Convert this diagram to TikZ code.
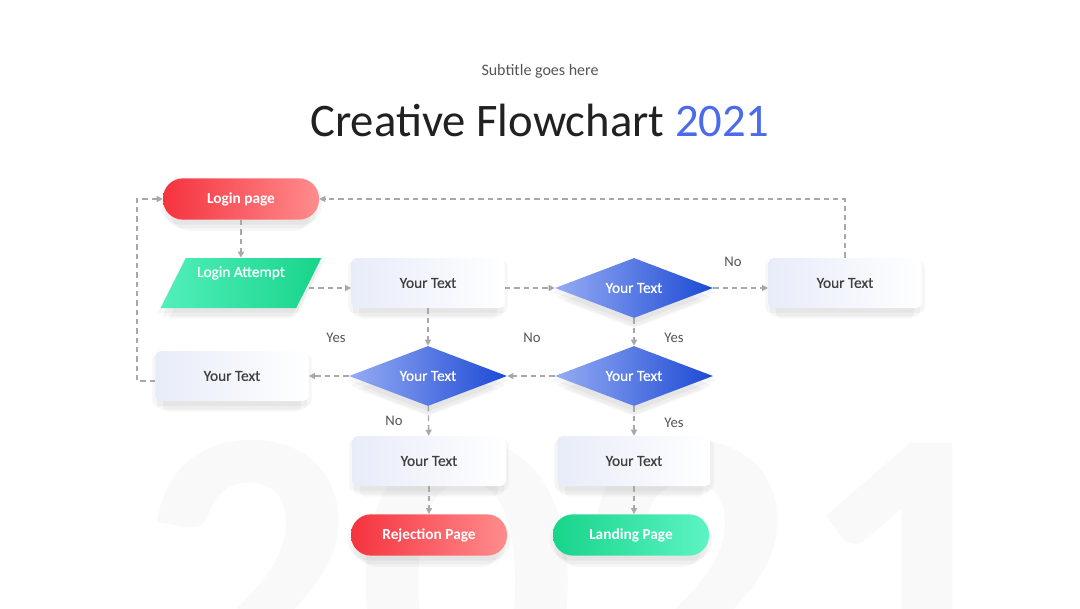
\documentclass[tikz,border=0pt]{standalone}
\usepackage{fontspec}
\setmainfont{Carlito}
\usetikzlibrary{shapes.geometric,arrows.meta,shadows}

\definecolor{redA}{HTML}{F5333F}
\definecolor{redB}{HTML}{FF8C8C}
\definecolor{greenA}{HTML}{18D48A}
\definecolor{greenB}{HTML}{5CF4C4}
\definecolor{blueA}{HTML}{95ACF3}
\definecolor{blueB}{HTML}{1D49D5}
\definecolor{paleblue}{HTML}{E8ECF9}
\definecolor{textgray}{HTML}{404040}
\definecolor{answergray}{HTML}{555555}
\definecolor{linegray}{HTML}{A8A8A8}
\definecolor{titleblue}{HTML}{4B6BEB}

\begin{document}
\begin{tikzpicture}[x=0.75pt, y=0.75pt]
  \useasboundingbox (0,0) rectangle (1080,608);
  \fill [white] (0,0) rectangle (1080,608);  % Hintergrund.

  \tikzstyle{soft}=[general shadow={fill=black, opacity=0.035, shadow yshift=-3pt, shadow scale=1.04},
                    general shadow={fill=black, opacity=0.035, shadow yshift=-7pt, shadow scale=0.98},
                    general shadow={fill=black, opacity=0.03, shadow yshift=-11pt, shadow scale=0.9}]
  \tikzstyle{pill}=[rectangle, rounded corners=15pt, minimum width=117pt, minimum height=31pt, inner sep=0pt, text=white, font=\bfseries\fontsize{11.5}{13}\selectfont, soft]
  \tikzstyle{redpill}=[pill, left color=redA, right color=redB]
  \tikzstyle{greenpill}=[pill, left color=greenA, right color=greenB]
  \tikzstyle{txtbox}=[rectangle, rounded corners=4pt, minimum width=115pt, minimum height=37.5pt, inner sep=0pt, left color=paleblue, right color=white, text=textgray, font=\fontsize{11.5}{13}\selectfont\addfontfeature{FakeBold=0.5}, soft]
  \tikzstyle{decision}=[diamond, aspect=2.6, minimum width=118.5pt, minimum height=45pt, inner sep=0pt, left color=blueA, right color=blueB, text=white, font=\fontsize{11.5}{13}\selectfont\addfontfeature{FakeBold=0.5}, soft]
  \tikzstyle{inputbox}=[trapezium, trapezium left angle=59, trapezium right angle=121, trapezium stretches=true, minimum width=121pt, minimum height=37.5pt, inner sep=0pt, text depth=17pt, left color=greenB!85!greenA, right color=greenA, text=white, font=\fontsize{11.5}{13}\selectfont\addfontfeature{FakeBold=0.5}, soft]
  \tikzstyle{flow}=[draw=linegray, line width=1pt, dash pattern=on 4pt off 3pt, -{Triangle[length=4.5pt, width=4.5pt]}]
  \tikzstyle{answer}=[text=answergray, font=\fontsize{11}{13}\selectfont, inner sep=1pt]

  % Wasserzeichen
  \begin{scope}
    \clip (0,0) rectangle (1080,608);
    \node[text=black!2.5, font=\bfseries\fontsize{325}{325}\selectfont, anchor=north west, inner sep=0pt] (mark) at (138,168) {2021};
  \end{scope}

  \node[text=answergray, font=\fontsize{12}{14}\selectfont, anchor=base] (sub) at (540,532) {Subtitle goes here};
  \node[text=black!87, font=\fontsize{35}{42}\selectfont, anchor=base] (title) at (540,471) {Creative Flowchart \textcolor{titleblue}{2021}};

  \node[redpill] (login) at (241,409) {Login page};
  \node[inputbox] (attempt) at (241,325) {Login Attempt};
  \node[txtbox] (t1) at (428,325) {Your Text};
  \node[decision] (d1) at (634,320) {Your Text};
  \node[txtbox] (tr) at (845,325) {Your Text};
  \node[txtbox] (tl) at (232,232) {Your Text};
  \node[decision] (d2) at (428,232) {Your Text};
  \node[decision] (d3) at (634,232) {Your Text};
  \node[txtbox] (t3) at (429,147) {Your Text};
  \node[txtbox] (t4) at (634,147) {Your Text};
  \node[redpill] (rej) at (429,73) {Rejection Page};
  \node[greenpill] (land) at (631,73) {Landing Page};
  \coordinate (bend) at (137,227);

  \draw[flow] (login) -- (attempt);
  \draw[flow] (attempt.east |- d1) -- (t1.west |- d1);
  \draw[flow] (t1.east |- d1) -- (d1);
  \draw[flow] (d1) -- (tr.west |- d1);
  \draw[flow] (tr.north) |- (login);
  \draw[flow] (d1) -- (d3);
  \draw[flow] (t1) -- (d2);
  \draw[flow] (d3) -- (d2);
  \draw[flow] (d2) -- (tl);
  \draw[flow] (tl.west |- bend) -- (bend) |- (login);
  \draw[flow] (d2) -- (t3);
  \draw[flow] (d3) -- (t4);
  \draw[flow] (t3) -- (rej);
  \draw[flow] (t4) -- (land.north -| t4);

  \node[answer] (no1) at (733,346) {No};
  \node[answer] (yes1) at (336,270) {Yes};
  \node[answer] (no2) at (532,270) {No};
  \node[answer] (yes2) at (674,270) {Yes};
  \node[answer] (no3) at (394,187) {No};
  \node[answer] (yes3) at (674,185) {Yes};
\end{tikzpicture}
\end{document}
